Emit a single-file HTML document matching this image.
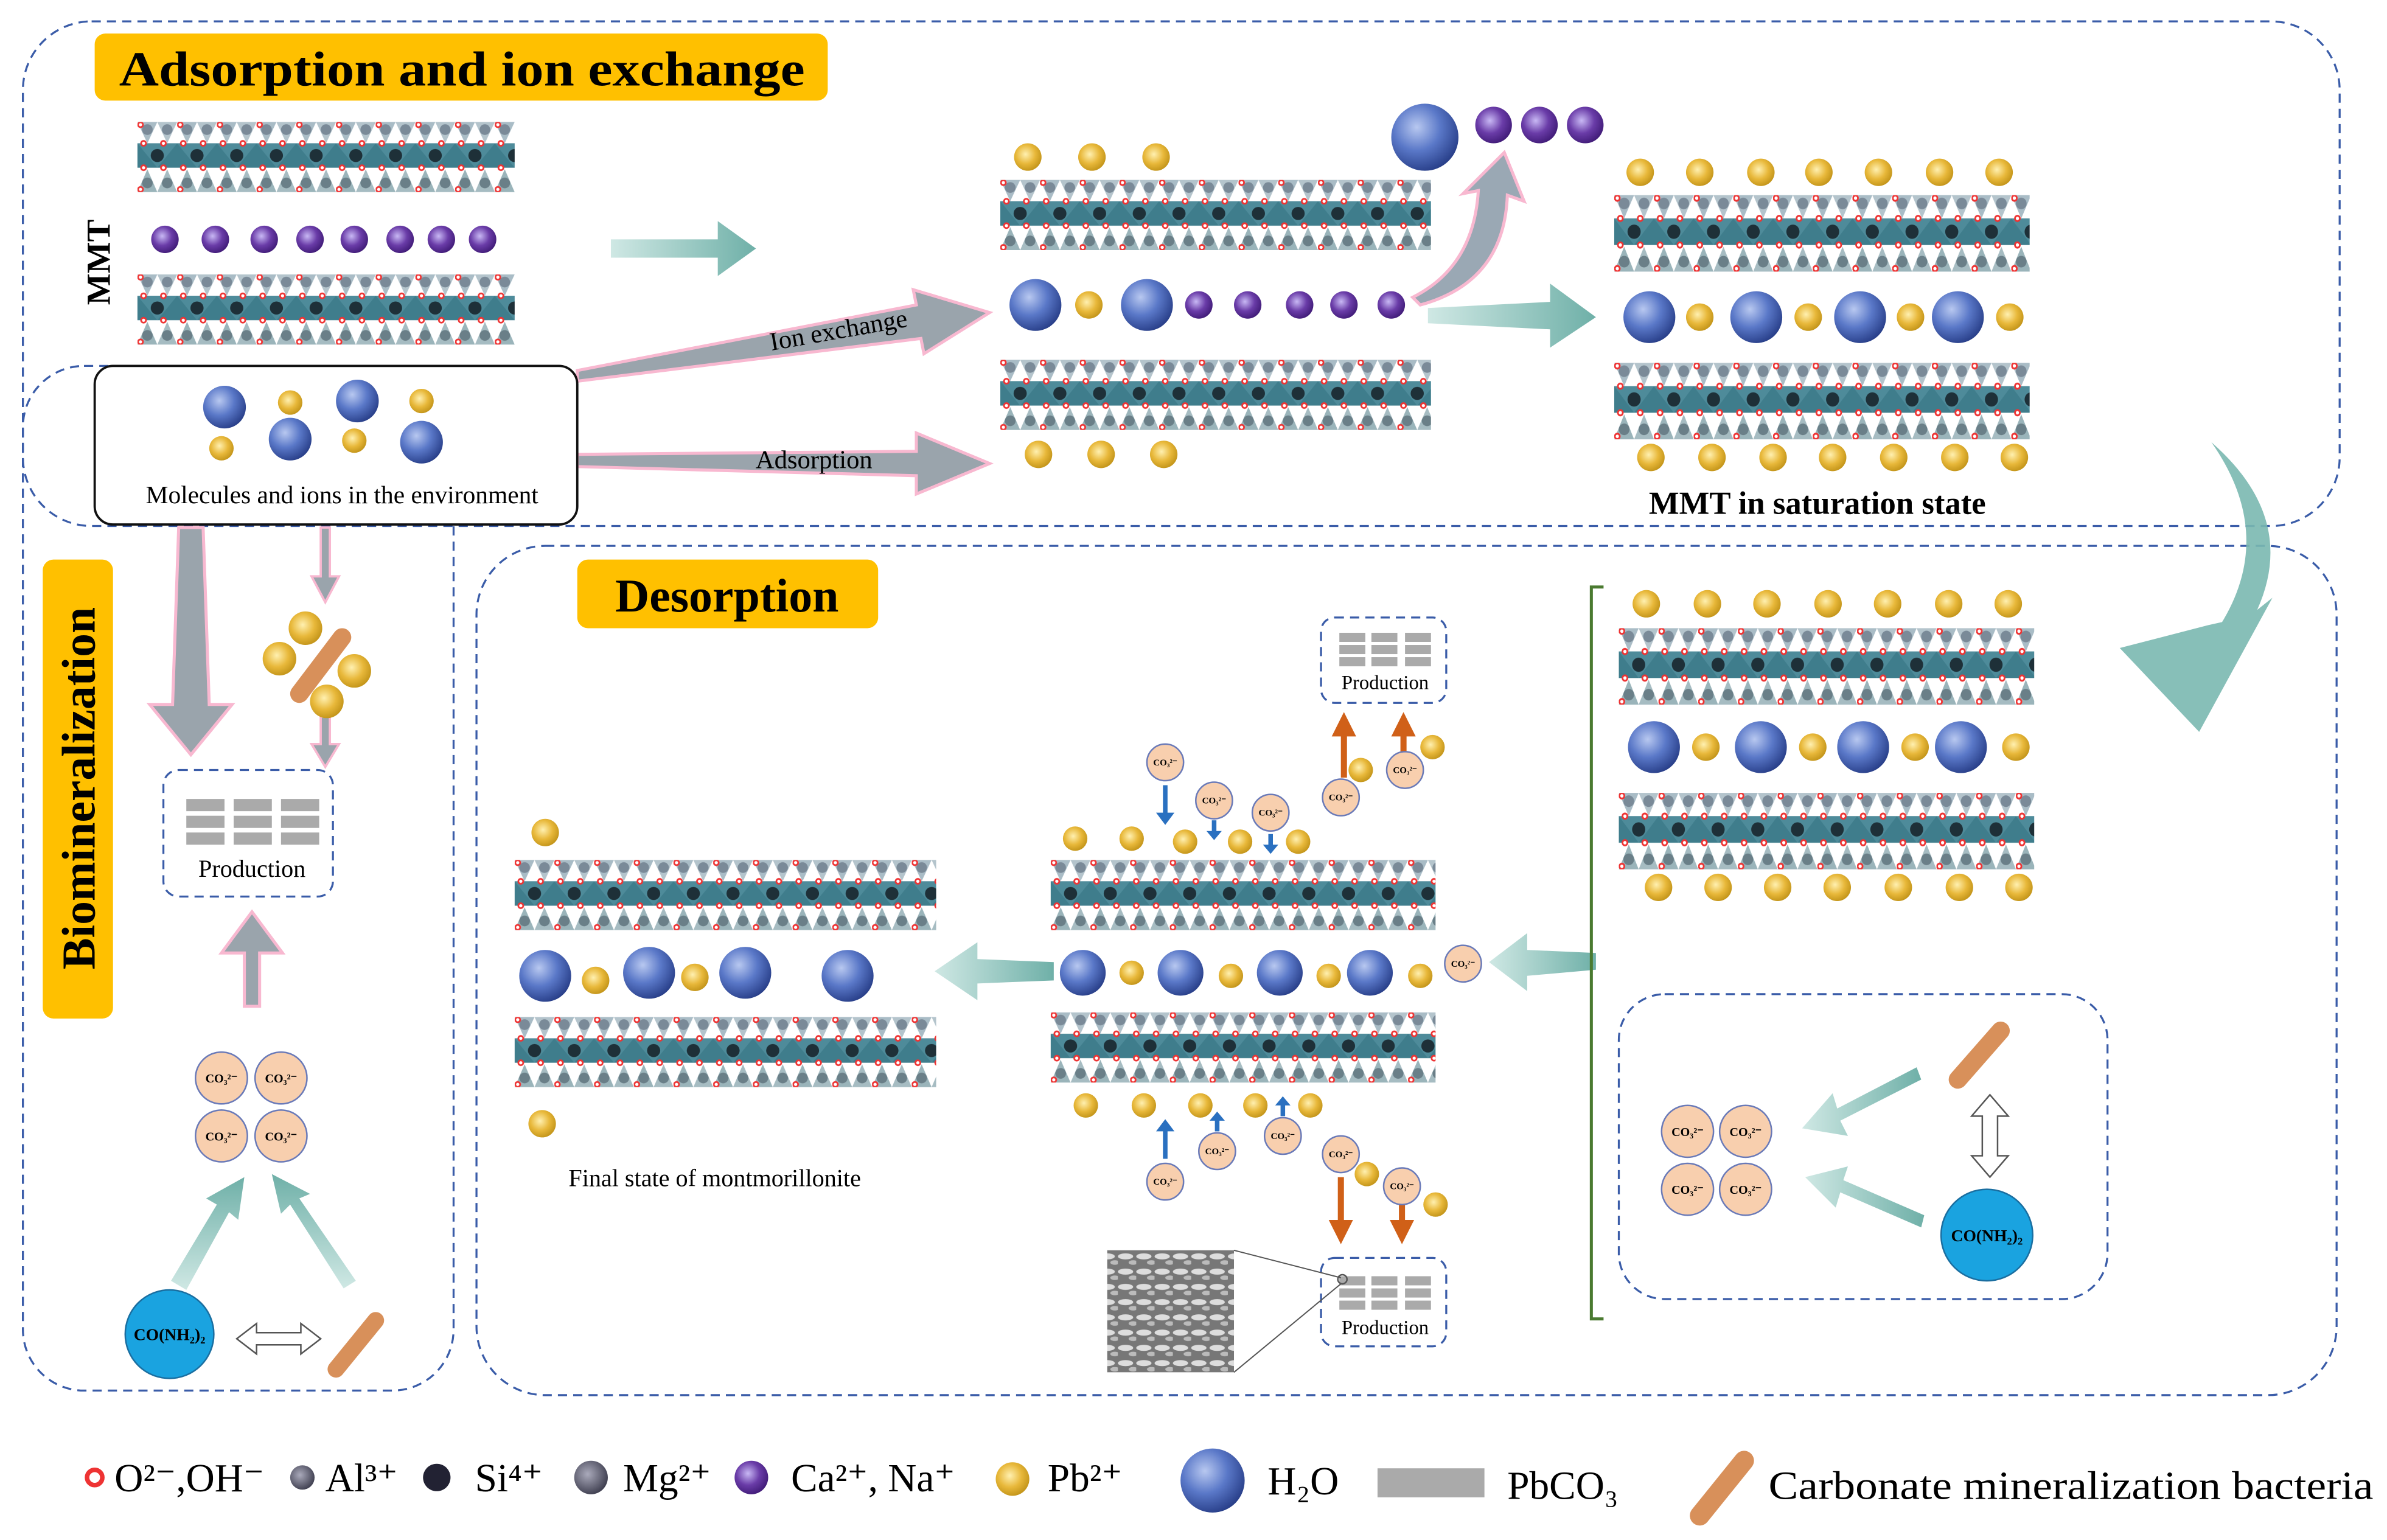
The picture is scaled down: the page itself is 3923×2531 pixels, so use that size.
<!DOCTYPE html>
<html><head><meta charset="utf-8"><style>
html,body{margin:0;padding:0;background:#fff;width:3923px;height:2531px;overflow:hidden}
svg{display:block}
text{font-family:"Liberation Serif",serif}
</style></head><body>
<svg width="3923" height="2531" viewBox="0 0 1563 1010" preserveAspectRatio="none" xmlns="http://www.w3.org/2000/svg">
<defs>
<radialGradient id="gb" cx="0.38" cy="0.35" r="0.7"><stop offset="0" stop-color="#b8c8f0"/><stop offset="0.5" stop-color="#5a78c8"/><stop offset="1" stop-color="#263c86"/></radialGradient>
<radialGradient id="gp" cx="0.4" cy="0.38" r="0.7"><stop offset="0" stop-color="#c8b8f4"/><stop offset="0.5" stop-color="#6a3ca8"/><stop offset="1" stop-color="#3a1670"/></radialGradient>
<radialGradient id="gg" cx="0.42" cy="0.4" r="0.7"><stop offset="0" stop-color="#fff0b0"/><stop offset="0.5" stop-color="#e8b83a"/><stop offset="1" stop-color="#b88a10"/></radialGradient>
<radialGradient id="gs" cx="0.4" cy="0.4" r="0.7"><stop offset="0" stop-color="#aab"/><stop offset="1" stop-color="#334"/></radialGradient>
<linearGradient id="ta" x1="0" x2="1"><stop offset="0" stop-color="#cfe8e4"/><stop offset="1" stop-color="#6fb0a8"/></linearGradient>
<linearGradient id="tv" x1="0" y1="1" x2="0" y2="0"><stop offset="0" stop-color="#cfe8e4"/><stop offset="1" stop-color="#6fb0a8"/></linearGradient>
<pattern id="sp" patternUnits="userSpaceOnUse" x="0" y="0" width="26" height="46">
<polygon points="0,0 13,0 6.5,14" fill="#a9bcc6"/><polygon points="13,0 26,0 19.5,14" fill="#b4c4cc"/>
<circle cx="6.5" cy="5" r="3.5" fill="#7a8a98"/><circle cx="19.5" cy="5" r="3.5" fill="#7a8a98"/>
<rect x="0" y="14" width="26" height="16" fill="#3f7d8c"/>
<polygon points="0,14 13,30 26,14" fill="#4e8b9a"/><circle cx="13" cy="22" r="4.3" fill="#1e3038"/>
<polygon points="0,46 13,46 6.5,31" fill="#9ab4ba"/><polygon points="13,46 26,46 19.5,31" fill="#a6bcc2"/>
<circle cx="6.5" cy="40" r="3.5" fill="#6a7f88"/><circle cx="19.5" cy="40" r="3.5" fill="#6a7f88"/>
<g fill="#fff" stroke="#e33" stroke-width="1.1"><circle cx="2" cy="1.8" r="1.6"/><circle cx="4" cy="14" r="1.6"/><circle cx="17" cy="14" r="1.6"/><circle cx="4" cy="30" r="1.6"/><circle cx="17" cy="30" r="1.6"/><circle cx="2" cy="44.2" r="1.6"/></g>
</pattern>
<pattern id="sem" patternUnits="userSpaceOnUse" width="12" height="10"><rect width="12" height="10" fill="#777"/><ellipse cx="5" cy="4" rx="5" ry="2" fill="#ddd"/><ellipse cx="10" cy="8" rx="3" ry="1.5" fill="#bbb"/></pattern>
<marker id="ob" markerWidth="4" markerHeight="4" refX="2" refY="2" orient="auto"><path d="M0,0 L4,2 L0,4z" fill="#d06018"/></marker>
</defs>

<g fill="none" stroke="#3a5ca8" stroke-width="1.3" stroke-dasharray="6,4">
<rect x="15" y="14" width="1517" height="331" rx="45"/>
<rect x="15" y="240" width="282" height="672" rx="40"/>
<rect x="312" y="358" width="1218" height="557" rx="45"/>
<rect x="1060" y="652" width="320" height="200" rx="30"/>
<rect x="107" y="505" width="111" height="83" rx="10"/>
<rect x="865" y="405" width="82" height="56" rx="9"/>
<rect x="865" y="825" width="82" height="58" rx="9"/>
</g>

<rect x="62" y="22" width="480" height="44" rx="7" fill="#ffc000"/>
<text x="78" y="56" font-size="32" font-weight="bold" textLength="449" lengthAdjust="spacingAndGlyphs">Adsorption and  ion exchange</text>
<rect x="378" y="367" width="197" height="45" rx="7" fill="#ffc000"/>
<text x="476" y="401" font-size="31" font-weight="bold" text-anchor="middle">Desorption</text>
<rect x="28" y="367" width="46" height="301" rx="7" fill="#ffc000"/>
<text transform="translate(62,517) rotate(-90)" font-size="31" font-weight="bold" text-anchor="middle">Biomineralization</text>
<text transform="translate(72,172) rotate(-90)" font-size="22" font-weight="bold" text-anchor="middle">MMT</text>

<g transform="translate(90,80)"><rect width="247" height="46" fill="url(#sp)"/></g>
<g transform="translate(90,180)"><rect width="247" height="46" fill="url(#sp)"/></g>
<g fill="url(#gp)"><circle cx="108" cy="157" r="9"/><circle cx="141" cy="157" r="9"/><circle cx="173" cy="157" r="9"/><circle cx="203" cy="157" r="9"/><circle cx="232" cy="157" r="9"/><circle cx="262" cy="157" r="9"/><circle cx="289" cy="157" r="9"/><circle cx="316" cy="157" r="9"/></g>

<g fill="url(#gg)"><circle cx="673" cy="103" r="9"/><circle cx="715" cy="103" r="9"/><circle cx="757" cy="103" r="9"/><circle cx="680" cy="298" r="9"/><circle cx="721" cy="298" r="9"/><circle cx="762" cy="298" r="9"/><circle cx="713" cy="200" r="9"/></g>
<g transform="translate(655,118)"><rect width="282" height="46" fill="url(#sp)"/></g>
<g transform="translate(655,236)"><rect width="282" height="46" fill="url(#sp)"/></g>
<g fill="url(#gb)"><circle cx="678" cy="200" r="17"/><circle cx="751" cy="200" r="17"/><circle cx="933" cy="90" r="22"/></g>
<g fill="url(#gp)"><circle cx="785" cy="200" r="9"/><circle cx="817" cy="200" r="9"/><circle cx="851" cy="200" r="9"/><circle cx="880" cy="200" r="9"/><circle cx="911" cy="200" r="9"/><circle cx="978" cy="82" r="12"/><circle cx="1008" cy="82" r="12"/><circle cx="1038" cy="82" r="12"/></g>
<path d="M925,195 Q965,175 968,125 L958,127 L985,100 L998,132 L987,128 Q985,185 930,200z" fill="#9aa8b4" stroke="#f8b8d0" stroke-width="2"/>

<g fill="url(#gg)"><circle cx="1074" cy="113" r="9"/><circle cx="1113" cy="113" r="9"/><circle cx="1153" cy="113" r="9"/><circle cx="1191" cy="113" r="9"/><circle cx="1230" cy="113" r="9"/><circle cx="1270" cy="113" r="9"/><circle cx="1309" cy="113" r="9"/>
<circle cx="1081" cy="300" r="9"/><circle cx="1121" cy="300" r="9"/><circle cx="1161" cy="300" r="9"/><circle cx="1200" cy="300" r="9"/><circle cx="1240" cy="300" r="9"/><circle cx="1280" cy="300" r="9"/><circle cx="1319" cy="300" r="9"/>
<circle cx="1113" cy="208" r="9"/><circle cx="1184" cy="208" r="9"/><circle cx="1251" cy="208" r="9"/><circle cx="1316" cy="208" r="9"/></g>
<g transform="translate(1057,128) scale(1,1.09)"><rect width="272" height="46" fill="url(#sp)"/></g>
<g transform="translate(1057,238) scale(1,1.09)"><rect width="272" height="46" fill="url(#sp)"/></g>
<g fill="url(#gb)"><circle cx="1080" cy="208" r="17"/><circle cx="1150" cy="208" r="17"/><circle cx="1218" cy="208" r="17"/><circle cx="1282" cy="208" r="17"/></g>
<text x="1190" y="337" font-size="21" font-weight="bold" text-anchor="middle">MMT in saturation state</text>

<polygon points="400,157 470,157 470,145 495,163 470,181 470,169 400,169" fill="url(#ta)"/>
<polygon points="935,202 1015,198 1015,186 1045,208 1015,228 1015,216 935,212" fill="url(#ta)"/>
<polygon points="1045,625 1000,623 1000,612 975,631 1000,650 1000,640 1045,636" fill="url(#ta)"/>
<polygon points="690,631 640,629 640,618 612,637 640,656 640,645 690,643" fill="url(#ta)"/>
<path d="M1448,290 Q1505,340 1478,400 L1488,392 L1440,480 L1388,425 L1446,410 L1455,408 Q1490,350 1448,290z" fill="#7ab8b0" opacity="0.9"/>

<polygon points="378,243 600,200 598,190 648,205 605,232 603,222 378,250" fill="#9aa4ac" stroke="#f8b8d0" stroke-width="2"/>
<text x="550" y="222" font-size="17" text-anchor="middle" transform="rotate(-10 550 222)">Ion exchange</text>
<polygon points="378,298 600,296 600,284 648,304 600,324 600,312 378,306" fill="#9aa4ac" stroke="#f8b8d0" stroke-width="2"/>
<text x="533" y="307" font-size="17" text-anchor="middle">Adsorption</text>

<rect x="62" y="240" width="316" height="104" rx="12" fill="#fff" stroke="#111" stroke-width="1.5"/>
<g fill="url(#gb)"><circle cx="147" cy="267" r="14"/><circle cx="190" cy="288" r="14"/><circle cx="234" cy="263" r="14"/><circle cx="276" cy="290" r="14"/></g>
<g fill="url(#gg)"><circle cx="145" cy="294" r="8"/><circle cx="190" cy="264" r="8"/><circle cx="232" cy="289" r="8"/><circle cx="276" cy="263" r="8"/></g>
<text x="224" y="330" font-size="16.5" text-anchor="middle">Molecules and ions in the environment</text>

<polygon points="117,346 133,346 137,462 152,462 125,495 98,462 113,462" fill="#9aa4ac" stroke="#f8b8d0" stroke-width="2"/>
<polygon points="210,346 216,346 216,378 222,378 213,395 204,378 210,378" fill="#9aa4ac" stroke="#f8b8d0" stroke-width="1.5"/>
<polygon points="210,470 216,470 216,488 222,488 213,503 204,488 210,488" fill="#9aa4ac" stroke="#f8b8d0" stroke-width="1.5"/>
<line x1="196" y1="455" x2="224" y2="418" stroke="#d8905a" stroke-width="12" stroke-linecap="round"/>
<g fill="url(#gg)"><circle cx="200" cy="412" r="11"/><circle cx="183" cy="432" r="11"/><circle cx="232" cy="440" r="11"/><circle cx="214" cy="460" r="11"/></g>
<polygon points="160,660 170,660 170,625 185,625 165,598 145,625 160,625" fill="#9aa4ac" stroke="#f8b8d0" stroke-width="2"/>
<g fill="#aaa"><rect x="122" y="524" width="25" height="8"/><rect x="153" y="524" width="25" height="8"/><rect x="184" y="524" width="25" height="8"/><rect x="122" y="535" width="25" height="8"/><rect x="153" y="535" width="25" height="8"/><rect x="184" y="535" width="25" height="8"/><rect x="122" y="546" width="25" height="8"/><rect x="153" y="546" width="25" height="8"/><rect x="184" y="546" width="25" height="8"/></g>
<text x="165" y="575" font-size="16" text-anchor="middle">Production</text>
<g fill="#f8cfae" stroke="#6a7ab8" stroke-width="1"><circle cx="145" cy="707" r="17"/><circle cx="184" cy="707" r="17"/><circle cx="145" cy="745" r="17"/><circle cx="184" cy="745" r="17"/></g>
<g font-size="8" font-weight="bold" text-anchor="middle"><text x="145" y="710">CO₃²⁻</text><text x="184" y="710">CO₃²⁻</text><text x="145" y="748">CO₃²⁻</text><text x="184" y="748">CO₃²⁻</text></g>
<polygon points="112,840 142,790 135,786 160,772 156,800 150,795 122,846" fill="url(#tv)"/>
<polygon points="225,845 190,790 184,796 178,770 203,783 196,786 233,840" fill="url(#tv)"/>
<circle cx="111" cy="875" r="29" fill="#1aa3e0" stroke="#1a6ea0"/>
<text x="111" y="879" font-size="11" font-weight="bold" text-anchor="middle">CO(NH₂)₂</text>
<polygon points="155,878 168,868 168,874 197,874 197,868 210,878 197,888 197,882 168,882 168,888" fill="#fff" stroke="#555" stroke-width="1"/>
<line x1="220" y1="898" x2="246" y2="866" stroke="#d8905a" stroke-width="11" stroke-linecap="round"/>

<path d="M1050,385 L1042,385 L1042,865 L1050,865" fill="none" stroke="#4a7a30" stroke-width="2"/>
<g fill="url(#gg)"><circle cx="1078" cy="396" r="9"/><circle cx="1118" cy="396" r="9"/><circle cx="1157" cy="396" r="9"/><circle cx="1197" cy="396" r="9"/><circle cx="1236" cy="396" r="9"/><circle cx="1276" cy="396" r="9"/><circle cx="1315" cy="396" r="9"/>
<circle cx="1086" cy="582" r="9"/><circle cx="1125" cy="582" r="9"/><circle cx="1164" cy="582" r="9"/><circle cx="1203" cy="582" r="9"/><circle cx="1243" cy="582" r="9"/><circle cx="1283" cy="582" r="9"/><circle cx="1322" cy="582" r="9"/>
<circle cx="1117" cy="490" r="9"/><circle cx="1187" cy="490" r="9"/><circle cx="1254" cy="490" r="9"/><circle cx="1320" cy="490" r="9"/></g>
<g transform="translate(1060,412) scale(1,1.09)"><rect width="272" height="46" fill="url(#sp)"/></g>
<g transform="translate(1060,520) scale(1,1.09)"><rect width="272" height="46" fill="url(#sp)"/></g>
<g fill="url(#gb)"><circle cx="1083" cy="490" r="17"/><circle cx="1153" cy="490" r="17"/><circle cx="1220" cy="490" r="17"/><circle cx="1284" cy="490" r="17"/></g>
<g fill="#f8cfae" stroke="#6a7ab8" stroke-width="1"><circle cx="1105" cy="742" r="17"/><circle cx="1143" cy="742" r="17"/><circle cx="1105" cy="780" r="17"/><circle cx="1143" cy="780" r="17"/></g>
<g font-size="8" font-weight="bold" text-anchor="middle"><text x="1105" y="745">CO₃²⁻</text><text x="1143" y="745">CO₃²⁻</text><text x="1105" y="783">CO₃²⁻</text><text x="1143" y="783">CO₃²⁻</text></g>
<polygon points="1258,708 1205,735 1210,745 1180,740 1200,717 1203,727 1255,700" fill="url(#ta)"/>
<polygon points="1258,805 1205,782 1202,792 1182,772 1210,765 1207,774 1260,797" fill="url(#ta)"/>
<line x1="1282" y1="708" x2="1310" y2="676" stroke="#d8905a" stroke-width="12" stroke-linecap="round"/>
<polygon points="1303,718 1315,732 1308,732 1308,758 1315,758 1303,772 1291,758 1298,758 1298,732 1291,732" fill="#fff" stroke="#555"/>
<circle cx="1301" cy="810" r="30" fill="#1aa3e0" stroke="#1a6ea0"/>
<text x="1301" y="814" font-size="11" font-weight="bold" text-anchor="middle">CO(NH₂)₂</text>

<g fill="url(#gg)"><circle cx="704" cy="550" r="8"/><circle cx="741" cy="550" r="8"/><circle cx="776" cy="552" r="8"/><circle cx="812" cy="552" r="8"/><circle cx="850" cy="552" r="8"/>
<circle cx="711" cy="725" r="8"/><circle cx="749" cy="725" r="8"/><circle cx="786" cy="725" r="8"/><circle cx="822" cy="725" r="8"/><circle cx="858" cy="725" r="8"/>
<circle cx="741" cy="638" r="8"/><circle cx="806" cy="640" r="8"/><circle cx="870" cy="640" r="8"/><circle cx="930" cy="640" r="8"/>
<circle cx="891" cy="505" r="8"/><circle cx="938" cy="490" r="8"/><circle cx="895" cy="770" r="8"/><circle cx="940" cy="790" r="8"/></g>
<g transform="translate(688,564)"><rect width="252" height="46" fill="url(#sp)"/></g>
<g transform="translate(688,664)"><rect width="252" height="46" fill="url(#sp)"/></g>
<g fill="url(#gb)"><circle cx="709" cy="638" r="15"/><circle cx="773" cy="638" r="15"/><circle cx="838" cy="638" r="15"/><circle cx="897" cy="638" r="15"/></g>
<g stroke="#2a70c0" stroke-width="3" fill="none"><line x1="763" y1="515" x2="763" y2="535"/><line x1="795" y1="538" x2="795" y2="547"/><line x1="832" y1="547" x2="832" y2="556"/><line x1="763" y1="760" x2="763" y2="740"/><line x1="797" y1="742" x2="797" y2="733"/><line x1="840" y1="732" x2="840" y2="723"/></g>
<g fill="#2a70c0"><polygon points="757,533 769,533 763,541"/><polygon points="790,545 800,545 795,551"/><polygon points="827,554 837,554 832,560"/><polygon points="757,742 769,742 763,734"/><polygon points="792,735 802,735 797,729"/><polygon points="835,725 845,725 840,719"/></g>
<g stroke="#d06018" stroke-width="4" fill="none" marker-end="url(#ob)"><line x1="880" y1="510" x2="880" y2="475"/><line x1="919" y1="495" x2="919" y2="475"/><line x1="878" y1="772" x2="878" y2="808"/><line x1="918" y1="790" x2="918" y2="808"/></g>
<g fill="#f8cfae" stroke="#6a7ab8" stroke-width="1"><circle cx="763" cy="500" r="12"/><circle cx="795" cy="525" r="12"/><circle cx="832" cy="533" r="12"/><circle cx="878" cy="523" r="12"/><circle cx="920" cy="505" r="12"/><circle cx="958" cy="632" r="12"/><circle cx="763" cy="775" r="12"/><circle cx="797" cy="755" r="12"/><circle cx="840" cy="745" r="12"/><circle cx="878" cy="757" r="12"/><circle cx="918" cy="778" r="12"/></g>
<g font-size="6" font-weight="bold" text-anchor="middle"><text x="763" y="502">CO₃²⁻</text><text x="795" y="527">CO₃²⁻</text><text x="832" y="535">CO₃²⁻</text><text x="878" y="525">CO₃²⁻</text><text x="920" y="507">CO₃²⁻</text><text x="958" y="634">CO₃²⁻</text><text x="763" y="777">CO₃²⁻</text><text x="797" y="757">CO₃²⁻</text><text x="840" y="747">CO₃²⁻</text><text x="878" y="759">CO₃²⁻</text><text x="918" y="780">CO₃²⁻</text></g>
<g fill="#aaa"><rect x="877" y="415" width="17" height="6"/><rect x="898" y="415" width="17" height="6"/><rect x="920" y="415" width="17" height="6"/><rect x="877" y="423" width="17" height="6"/><rect x="898" y="423" width="17" height="6"/><rect x="920" y="423" width="17" height="6"/><rect x="877" y="431" width="17" height="6"/><rect x="898" y="431" width="17" height="6"/><rect x="920" y="431" width="17" height="6"/>
<rect x="877" y="837" width="17" height="6"/><rect x="898" y="837" width="17" height="6"/><rect x="920" y="837" width="17" height="6"/><rect x="877" y="845" width="17" height="6"/><rect x="898" y="845" width="17" height="6"/><rect x="920" y="845" width="17" height="6"/><rect x="877" y="853" width="17" height="6"/><rect x="898" y="853" width="17" height="6"/><rect x="920" y="853" width="17" height="6"/></g>
<text x="907" y="452" font-size="13" text-anchor="middle">Production</text>
<text x="907" y="875" font-size="13" text-anchor="middle">Production</text>
<rect x="725" y="820" width="83" height="80" fill="url(#sem)"/>
<g stroke="#555" stroke-width="0.8"><line x1="808" y1="820" x2="878" y2="838"/><line x1="808" y1="900" x2="878" y2="842"/></g>
<circle cx="879" cy="839" r="3" fill="none" stroke="#555"/>

<g fill="url(#gg)"><circle cx="357" cy="546" r="9"/><circle cx="355" cy="737" r="9"/><circle cx="390" cy="643" r="9"/><circle cx="455" cy="641" r="9"/></g>
<g transform="translate(337,564)"><rect width="276" height="46" fill="url(#sp)"/></g>
<g transform="translate(337,667)"><rect width="276" height="46" fill="url(#sp)"/></g>
<g fill="url(#gb)"><circle cx="357" cy="640" r="17"/><circle cx="425" cy="638" r="17"/><circle cx="488" cy="638" r="17"/><circle cx="555" cy="640" r="17"/></g>
<text x="468" y="778" font-size="16" text-anchor="middle">Final state of montmorillonite</text>

<g font-size="26">
<circle cx="62" cy="969" r="5" fill="#fff" stroke="#e33" stroke-width="3"/><text x="75" y="978">O²⁻,OH⁻</text>
<circle cx="198" cy="969" r="8" fill="url(#gs)"/><text x="213" y="978">Al³⁺</text>
<circle cx="286" cy="969" r="9" fill="#223"/><text x="311" y="978">Si⁴⁺</text>
<circle cx="387" cy="969" r="11" fill="url(#gs)"/><text x="408" y="978">Mg²⁺</text>
<circle cx="492" cy="969" r="11" fill="url(#gp)"/><text x="518" y="978">Ca²⁺, Na⁺</text>
<circle cx="663" cy="970" r="11" fill="url(#gg)"/><text x="686" y="978">Pb²⁺</text>
<circle cx="794" cy="971" r="21" fill="url(#gb)"/><text x="830" y="980">H₂O</text>
<rect x="902" y="963" width="70" height="19" fill="#aaa"/><text x="987" y="983">PbCO₃</text>
<line x1="1113" y1="994" x2="1142" y2="958" stroke="#d8905a" stroke-width="13" stroke-linecap="round"/><text x="1158" y="983" textLength="396" lengthAdjust="spacingAndGlyphs">Carbonate mineralization bacteria</text>
</g>
</svg>
</body></html>
